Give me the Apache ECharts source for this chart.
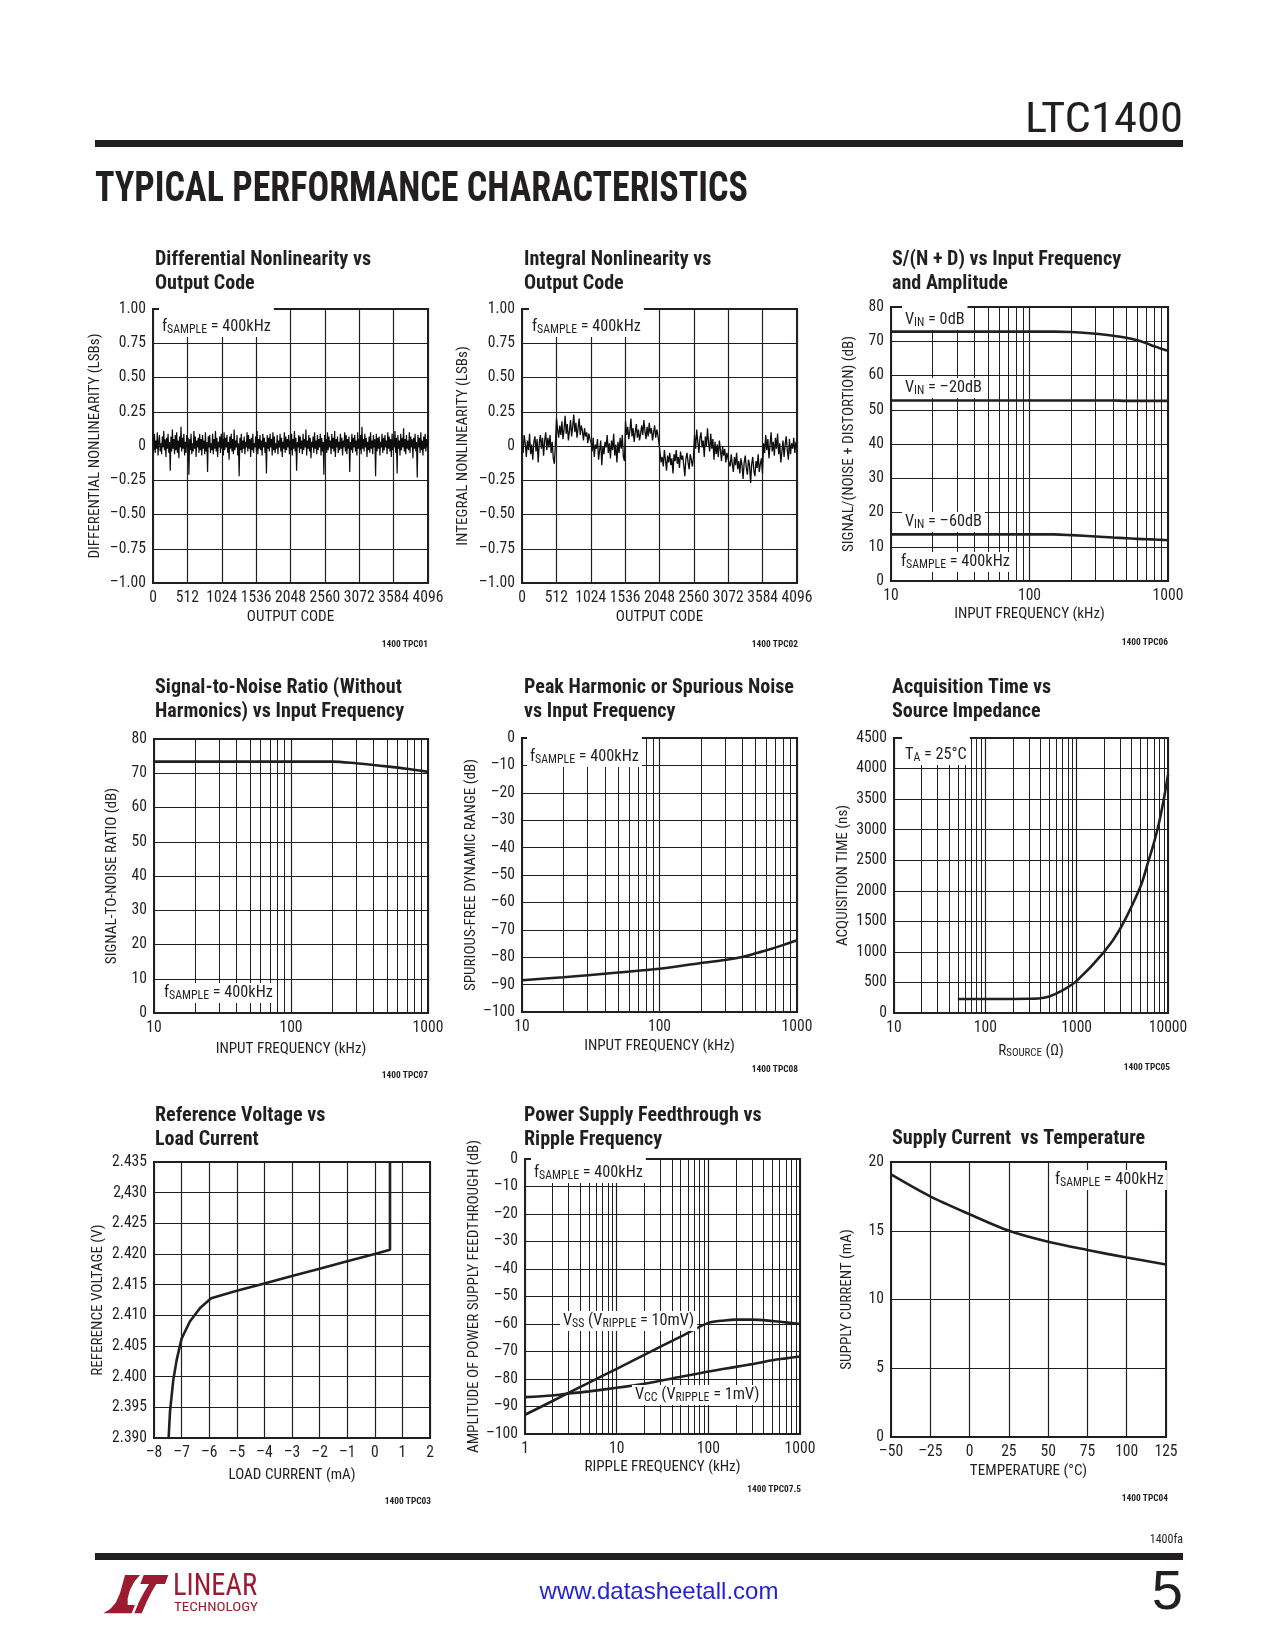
<!DOCTYPE html>
<html><head><meta charset="utf-8">
<script src="https://cdn.jsdelivr.net/npm/echarts@6/dist/echarts.min.js"></script>
<style>html,body{margin:0;padding:0;background:#fff}#c{width:1275px;height:1650px}</style>
</head><body><div id="c"></div>
<script>
// ---------------- DATA ----------------
// DNL (hundredths of an LSB), sampled evenly across codes 0..4096
const dnlValues = [
6,-3,9,-5,4,-2,10,-7,3,8,-4,2,-6,7,-1,11,-3,5,-8,6,-2,9,-5,3,-18,7,-4,12,-2,5,-6,8,
-3,10,-5,4,-9,7,-1,14,-4,6,-2,9,-7,3,-5,8,-1,6,-21,5,-3,9,-6,2,-4,11,-2,7,-8,4,-1,6,
-5,9,-3,5,-7,8,-2,4,-6,10,-4,3,-19,7,-1,8,-5,2,-3,9,-6,5,-2,11,-4,6,-8,3,-1,7,-5,9,
-2,5,-7,10,-3,6,-1,8,-5,3,-10,7,-2,9,-4,5,-6,12,-3,4,-1,8,-7,2,-22,6,-3,9,-5,4,-2,7,
-6,3,-1,10,-4,8,-2,5,-8,6,-3,9,-5,2,-1,7,-4,11,-6,5,-2,8,-3,4,-7,9,-1,6,-5,3,-20,8,
-2,6,-4,9,-1,5,-7,10,-3,7,-5,2,-2,8,-6,4,-1,9,-4,6,-8,3,-2,10,-5,7,-3,5,-1,8,-6,4,
-3,9,-7,5,-2,11,-4,6,-18,3,-1,8,-5,7,-2,4,-6,9,-3,5,-1,12,-7,4,-2,8,-4,6,-9,3,-1,7,
-5,10,-2,4,-6,8,-3,5,-1,9,-7,6,-4,3,-21,8,-2,5,-5,10,-3,7,-1,4,-6,9,-2,6,-4,11,-8,5,
-1,7,-5,3,-3,9,-2,6,-7,4,-1,10,-4,8,-6,5,-2,7,-19,3,-3,9,-5,6,-1,8,-4,4,-7,10,-2,5,
-3,8,-6,14,-2,5,-4,9,-1,6,-8,3,-3,7,-5,10,-2,4,-6,8,-1,5,-22,9,-4,6,-2,7,-7,3,-1,9,
-5,6,-3,8,-1,4,-6,10,-2,7,-4,5,-8,9,-3,3,-1,11,-5,6,-20,8,-2,4,-7,9,-3,6,-1,13,-4,5,
-6,8,-2,4,-3,10,-5,7,-1,5,-9,6,-2,9,-4,3,-23,8,-1,6,-5,10,-3,4,-7,7,-2,9,-4,5,-1,8
];
// INL (hundredths of an LSB), sampled evenly across codes 0..4096
const inlValues = [
0,-5,8,2,-8,4,-3,9,-6,1,-10,3,7,-4,5,-12,2,8,-2,6,-7,4,10,-3,6,-1,8,-5,3,-9,-13,2,
20,12,6,15,8,18,5,12,22,9,16,4,11,19,7,14,23,10,17,6,13,20,8,15,11,4,13,7,10,2,9,5,
3,-4,6,-8,1,-2,5,-10,-3,4,-14,0,-6,3,-1,8,-5,2,-9,4,-3,9,-7,1,-12,3,-5,6,-2,8,-8,-11,
18,8,14,5,11,20,7,13,3,10,16,6,12,4,9,15,8,19,11,5,14,7,17,9,13,4,10,15,6,12,8,2,
-5,-12,-8,-15,-3,-10,-18,-7,-12,-5,-14,-9,-20,-6,-11,-3,-13,-8,-16,-4,-10,-7,-14,-22,-9,-5,-12,-17,-6,-10,-15,-8,
8,-2,12,3,-5,6,10,-1,4,-8,7,0,13,2,-4,9,-2,5,-10,3,-6,1,-8,4,-3,-11,0,-7,-2,-12,-5,-9,
-10,-15,-6,-13,-19,-8,-14,-5,-17,-11,-20,-9,-14,-24,-12,-7,-16,-21,-10,-14,-27,-13,-8,-18,-22,-11,-16,-6,-19,-13,-9,-20,
2,-5,8,-3,5,-9,1,10,-4,3,-7,6,-2,9,-6,2,-12,-4,4,-8,1,7,-3,-10,5,-6,2,-2,6,-5,3,-1
];
const codeTicks = ['0','512','1024','1536','2048','2560','3072','3584','4096'];
const lsbTicks = ['\u20131.00','\u20130.75','\u20130.50','\u20130.25','0','0.25','0.50','0.75','1.00'];

// S/(N+D) vs input frequency
const sndFreq = [10,20,50,100,150,200,300,400,500,600,700,800,900,1000];
const snd0dB  = [72.8,72.8,72.8,72.8,72.8,72.7,72.2,71.6,71.0,70.3,69.4,68.5,67.8,67.2];
const snd20dB = [52.7,52.7,52.7,52.7,52.7,52.7,52.7,52.7,52.6,52.6,52.6,52.6,52.6,52.6];
const snd60dB = [13.6,13.6,13.6,13.6,13.6,13.4,13.0,12.7,12.5,12.3,12.2,12.1,12.0,11.9];
const dbTicks80 = ['0','10','20','30','40','50','60','70','80'];
const freqTicks10 = ['10','100','1000'];

// SNR (without harmonics)
const snrFreq = [10,50,100,200,300,400,500,700,1000];
const snrValues = [73.4,73.4,73.4,73.4,72.9,72.4,72.0,71.3,70.4];

// Peak harmonic / SFDR
const sfdrFreq = [10,20,50,100,200,300,400,500,600,800,1000];
const sfdrValues = [-88.4,-87.3,-85.6,-84.2,-82.1,-81.0,-79.9,-78.6,-77.5,-75.5,-73.8];
const negDbTicks = ['\u2013100','\u201390','\u201380','\u201370','\u201360','\u201350','\u201340','\u201330','\u201320','\u201310','0'];

// Acquisition time vs source impedance
const acqOhms = [50,100,200,300,400,500,700,1000,2000,3000,5000,6000,7000,8000,9000,10000];
const acqNs = [230,230,230,232,240,270,370,525,1000,1380,2070,2450,2780,3120,3500,3900];
const acqTicks = ['0','500','1000','1500','2000','2500','3000','3500','4000','4500'];
const ohmTicks = ['10','100','1000','10000'];

// Reference voltage vs load current
const refCurrent = [-7.47,-7.42,-7.30,-7.18,-7.00,-6.70,-6.33,-5.93,-5,-4,-3,-2,-1,0,0.55,0.55];
const refVoltage = [2.390,2.3943,2.3995,2.4027,2.4062,2.4090,2.4112,2.4128,2.4140,2.4152,2.4164,2.4176,2.4188,2.4200,2.4207,2.435];
const refTicks = ['2.390','2.395','2.400','2.405','2.410','2.415','2.420','2.425','2,430','2.435'];
const loadTicks = ['\u20138','\u20137','\u20136','\u20135','\u20134','\u20133','\u20132','\u20131','0','1','2'];

// Power supply feedthrough vs ripple frequency
const psfFreq = [1,2,3,5,10,20,50,100,150,200,300,500,700,1000];
const vssFeed = [-93.0,-88.0,-85.0,-81.3,-76.3,-71.2,-64.6,-59.6,-58.7,-58.4,-58.4,-58.9,-59.4,-60.0];
const vccFeed = [-86.6,-86.0,-85.3,-84.5,-83.2,-81.7,-79.2,-77.3,-76.3,-75.6,-74.6,-73.2,-72.5,-71.8];
const freqTicks1 = ['1','10','100','1000'];

// Supply current vs temperature
const tempC = [-50,-25,0,25,50,75,100,125];
const supplyMa = [19.1,17.5,16.2,15.0,14.2,13.6,13.05,12.55];
const tempTicks = ['\u201350','\u201325','0','25','50','75','100','125'];
const maTicks = ['0','5','10','15','20'];

// ---------------- FONT PICK (condensed face if present) ----------------
const mctx = document.createElement('canvas').getContext('2d');
function mw(font, s) { mctx.font = font; return mctx.measureText(s).width; }
const SAMPLE = 'Differential Nonlinearity OUTPUT CODE 0123456789';
function hasFont(n) {
  return mw('100px "' + n + '", monospace', SAMPLE) !== mw('100px monospace', SAMPLE) ||
         mw('100px "' + n + '", serif', SAMPLE) !== mw('100px serif', SAMPLE);
}
let FONT = null;
['Liberation Sans Narrow','Arial Narrow','Nimbus Sans Narrow','Roboto Condensed','Noto Sans Condensed',
 'DejaVu Sans Condensed','Open Sans Condensed'].some(n => { if (hasFont(n)) { FONT = {fam:'"' + n + '"', st:'normal'}; return true; } return false; });
if (!FONT) ['Roboto','Open Sans','Noto Sans'].some(n => {
  if (!hasFont(n)) return false;
  const a = mw('100px "' + n + '"', SAMPLE), b = mw('condensed 100px "' + n + '"', SAMPLE);
  if (b < a * 0.93) { FONT = {fam:'"' + n + '"', st:'condensed'}; return true; }
  return false;
});
if (!FONT) FONT = {fam:'"Liberation Sans"', st:'normal'};
const NARROW = FONT.fam + ',"Liberation Sans",Arial,sans-serif';
const FST = FONT.st;
const fontStr = (wt, px) => (FST === 'condensed' ? 'condensed ' : '') + wt + ' ' + px + 'px ' + NARROW;
const K = mw(fontStr('normal', 100), SAMPLE) / (mw('100px "Liberation Sans"', SAMPLE) * 0.82);
const SX = 1.04 / K;                      // horizontal squeeze for drawn texts
const fs = px => Math.round(px * 1.1 / Math.max(K, 1) * 10) / 10;  // axis text size
function fitX(str, wt, px, target) { return target / mw(fontStr(wt, px), str); }

// ---------------- LAYOUT / STYLE ----------------
const INK = '#231f20';
const grids = [
  {left:153, top:309, width:275, height:274},
  {left:522, top:309, width:275, height:274},
  {left:891, top:307, width:277, height:274},
  {left:154, top:739, width:274, height:274},
  {left:522, top:738, width:275, height:274},
  {left:894, top:738, width:274, height:275},
  {left:154, top:1162, width:276, height:276},
  {left:525, top:1159, width:275, height:275},
  {left:891, top:1162, width:275, height:275}
].map(g => Object.assign({show:true, borderColor:INK, borderWidth:2, backgroundColor:'transparent'}, g));

const nameRich = {
  m:{fontSize:fs(14.5), fontFamily:NARROW, fontStyle:FST, color:INK, lineHeight:16, verticalAlign:'middle'},
  s:{fontSize:fs(10.5), fontFamily:NARROW, fontStyle:FST, color:INK, lineHeight:8, verticalAlign:'bottom'}
};
function baseAxis(gi, name, gap) {
  return {
    gridIndex:gi, axisLine:{show:false}, axisTick:{show:false},
    splitLine:{show:true, lineStyle:{color:INK, width:1.2}},
    name:name, nameLocation:'middle', nameGap:gap,
    nameTextStyle:{color:INK, fontFamily:NARROW, fontStyle:FST, fontSize:fs(14.5), rich:nameRich}
  };
}
const lblStyle = {color:INK, fontFamily:NARROW, fontStyle:FST, fontSize:fs(15), margin:7};
function linAxis(gi, min, max, interval, ticks, name, gap) {
  return Object.assign(baseAxis(gi, name, gap), {
    type:'value', min:min, max:max, interval:interval,
    axisLabel:Object.assign({formatter: v => ticks[Math.round((v - min) / interval)]}, lblStyle)
  });
}
function logAxis(gi, min, max, ticks, name, gap) {
  return Object.assign(baseAxis(gi, name, gap), {
    type:'log', logBase:10, min:min, max:max,
    axisLabel:Object.assign({formatter: v => ticks[Math.round(Math.log10(v / min))]}, lblStyle)
  });
}
function minorLogLines(fromDecade, toDecade) {
  const vals = [];
  for (let d = fromDecade; d < toDecade; d++) for (let k = 2; k <= 9; k++) vals.push(k * Math.pow(10, d));
  return {silent:true, symbol:['none','none'], label:{show:false}, animation:false,
    lineStyle:{color:INK, width:1, type:'solid'}, emphasis:{disabled:true},
    data: vals.map(v => ({xAxis:v}))};
}
function zip(xs, ys) { return xs.map((x, i) => [x, ys[i]]); }
function curve(gi, xs, ys, extra) {
  return Object.assign({type:'line', xAxisIndex:gi, yAxisIndex:gi, symbol:'none', z:3,
    data: zip(xs, ys), lineStyle:{color:INK, width:2.6}, smooth:0.3, animation:false}, extra || {});
}

const xAxes = [
  linAxis(0, 0, 4096, 512, codeTicks, 'OUTPUT CODE', 27),
  linAxis(1, 0, 4096, 512, codeTicks, 'OUTPUT CODE', 27),
  logAxis(2, 10, 1000, freqTicks10, 'INPUT FREQUENCY (kHz)', 26),
  logAxis(3, 10, 1000, freqTicks10, 'INPUT FREQUENCY (kHz)', 29),
  logAxis(4, 10, 1000, freqTicks10, 'INPUT FREQUENCY (kHz)', 27),
  logAxis(5, 10, 10000, ohmTicks, '{m|R}{s|SOURCE}{m| (\u03a9)}', 30),
  linAxis(6, -8, 2, 1, loadTicks, 'LOAD CURRENT (mA)', 30),
  logAxis(7, 1, 1000, freqTicks1, 'RIPPLE FREQUENCY (kHz)', 26),
  linAxis(8, -50, 125, 25, tempTicks, 'TEMPERATURE (\u00b0C)', 27)
];
const yAxes = [
  linAxis(0, -1, 1, 0.25, lsbTicks, 'DIFFERENTIAL NONLINEARITY (LSBs)', 50),
  linAxis(1, -1, 1, 0.25, lsbTicks, 'INTEGRAL NONLINEARITY (LSBs)', 51),
  linAxis(2, 0, 80, 10, dbTicks80, 'SIGNAL/(NOISE + DISTORTION) (dB)', 34),
  linAxis(3, 0, 80, 10, dbTicks80, 'SIGNAL-TO-NOISE RATIO (dB)', 34),
  linAxis(4, -100, 0, 10, negDbTicks, 'SPURIOUS-FREE DYNAMIC RANGE (dB)', 39),
  linAxis(5, 0, 4500, 500, acqTicks, 'ACQUISITION TIME (ns)', 43),
  linAxis(6, 2.390, 2.435, 0.005, refTicks, 'REFERENCE VOLTAGE (V)', 48),
  linAxis(7, -100, 0, 10, negDbTicks, 'AMPLITUDE OF POWER SUPPLY FEEDTHROUGH (dB)', 40),
  linAxis(8, 0, 20, 5, maTicks, 'SUPPLY CURRENT (mA)', 36)
];

const series = [
  {type:'line', name:'DNL', xAxisIndex:0, yAxisIndex:0, symbol:'none', z:3, animation:false,
    data: dnlValues.map((v, i) => [i * 4096 / (dnlValues.length - 1), v / 100]),
    lineStyle:{color:'#0d0d0d', width:1.2}},
  {type:'line', name:'INL', xAxisIndex:1, yAxisIndex:1, symbol:'none', z:3, animation:false,
    data: inlValues.map((v, i) => [i * 4096 / (inlValues.length - 1), v / 100]),
    lineStyle:{color:'#0d0d0d', width:1.3}},
  curve(2, sndFreq, snd0dB, {name:'VIN = 0dB', markLine:minorLogLines(1, 3)}),
  curve(2, sndFreq, snd20dB, {name:'VIN = -20dB'}),
  curve(2, sndFreq, snd60dB, {name:'VIN = -60dB'}),
  curve(3, snrFreq, snrValues, {name:'SNR', markLine:minorLogLines(1, 3)}),
  curve(4, sfdrFreq, sfdrValues, {name:'SFDR', markLine:minorLogLines(1, 3)}),
  curve(5, acqOhms, acqNs, {name:'Acquisition', markLine:minorLogLines(1, 4)}),
  curve(6, refCurrent, refVoltage, {name:'VREF', smooth:false}),
  curve(7, psfFreq, vssFeed, {name:'VSS', markLine:minorLogLines(0, 3)}),
  curve(7, psfFreq, vccFeed, {name:'VCC'}),
  curve(8, tempC, supplyMa, {name:'Supply current'})
];

// chart titles
const titleDefs = [
  ['Differential Nonlinearity vs\nOutput Code', 155, 248],
  ['Integral Nonlinearity vs\nOutput Code', 524, 248],
  ['S/(N + D) vs Input Frequency\nand Amplitude', 892, 248],
  ['Signal-to-Noise Ratio (Without\nHarmonics) vs Input Frequency', 155, 676],
  ['Peak Harmonic or Spurious Noise\nvs Input Frequency', 524, 676],
  ['Acquisition Time vs\nSource Impedance', 892, 676],
  ['Reference Voltage vs\nLoad Current', 155, 1104],
  ['Power Supply Feedthrough vs\nRipple Frequency', 524, 1104],
  ['Supply Current  vs Temperature', 892, 1127]
];
const TSX = fitX('Differential Nonlinearity vs', 'bold', 20, 216);
const titleEls = titleDefs.map(t => ({type:'text', x:t[1], y:t[2], scaleX:TSX, silent:true, z:10,
  style:{text:t[0], fill:INK, fontFamily:NARROW, fontStyle:FST, fontWeight:'bold', fontSize:20, lineHeight:24,
    align:'left', verticalAlign:'top'}}));

const RICH = {
  m:{fontSize:16.5, fontFamily:NARROW, fontStyle:FST, fill:INK, lineHeight:18, verticalAlign:'middle'},
  s:{fontSize:12, fontFamily:NARROW, fontStyle:FST, fill:INK, lineHeight:9, verticalAlign:'bottom'}
};
function ann(x, yc, text, padTop) {
  const pt = padTop || 1;
  return {type:'text', x:x, y:yc - (pt - 1) / 2, z:10, silent:true, scaleX:SX,
    style:{text:text, rich:RICH, fill:INK, backgroundColor:'#fff', padding:[pt,3,1,3],
      align:'left', verticalAlign:'middle'}};
}
const FS = '{m|f}{s|SAMPLE}{m| = 400kHz}';
function txt(x, y, text, size, opts) {
  opts = opts || {};
  return Object.assign({type:'text', x:x, y:y, z:10, silent:true,
    style:Object.assign({text:text, fill:INK, fontFamily:NARROW, fontStyle:FST, fontSize:size,
      align:'left', verticalAlign:'middle'}, opts.style || {})}, opts.el || {});
}
function tag(xr, y, text) { return txt(xr, y, text, 9.5, {style:{align:'right', fontWeight:'bold'}, el:{scaleX:SX}}); }

const LOGO = '#9b1c31';
const logoL = [[125,1575],[140,1575],[134.3,1581.7],[130,1590],[127.7,1598.3],[127.7,1605],[135,1605],[131.7,1613.3],[103.3,1613.3],[110,1609.3],[115.7,1602.7],[120,1593.3]];
const logoT = [[143.7,1575],[168.3,1575],[165,1584],[156.3,1584],[151.7,1591.7],[146.7,1601.7],[141.7,1613.3],[134.3,1613.3],[139,1601.7],[144.3,1591.7],[149,1584],[140.3,1584]];

const graphics = titleEls.concat([
  // header
  txt(1183, 121, 'LTC1400', 42, {el:{scaleX:fitX('LTC1400', 'normal', 42, 158)}, style:{align:'right'}}),
  {type:'rect', shape:{x:95, y:140, width:1088, height:7}, style:{fill:INK}, silent:true},
  txt(95, 190, 'TYPICAL PERFORMANCE CHARACTERISTICS', 36,
    {style:{fontWeight:'bold'}, el:{scaleY:1.2, scaleX:fitX('TYPICAL PERFORMANCE CHARACTERISTICS', 'bold', 36, 653)}}),
  // annotations
  ann(159, 327, FS, 13),
  ann(529, 327, FS, 13),
  ann(902, 320, '{m|V}{s|IN}{m| = 0dB}', 5),
  ann(902, 388, '{m|V}{s|IN}{m| = \u201320dB}'),
  ann(902, 522, '{m|V}{s|IN}{m| = \u201360dB}'),
  ann(898, 562, FS),
  ann(161, 993, FS),
  ann(527, 757, FS, 12),
  ann(902, 755, '{m|T}{s|A}{m| = 25\u00b0C}', 10),
  ann(531, 1173, FS, 8),
  ann(560, 1321, '{m|V}{s|SS}{m| (V}{s|RIPPLE}{m| = 10mV)}'),
  ann(632, 1395, '{m|V}{s|CC}{m| (V}{s|RIPPLE}{m| = 1mV)}'),
  ann(1052, 1180, FS),
  // figure tags
  tag(428, 645, '1400 TPC01'),
  tag(798, 645, '1400 TPC02'),
  tag(1168, 643, '1400 TPC06'),
  tag(428, 1076, '1400 TPC07'),
  tag(798, 1070, '1400 TPC08'),
  tag(1170, 1068, '1400 TPC05'),
  tag(431, 1502, '1400 TPC03'),
  tag(801, 1490, '1400 TPC07.5'),
  tag(1168, 1499, '1400 TPC04'),
  // footer
  txt(1183, 1540, '1400fa', 12, {style:{align:'right'}}),
  {type:'rect', shape:{x:95, y:1553, width:1088, height:7}, style:{fill:INK}, silent:true},
  {type:'polygon', shape:{points:logoL}, style:{fill:LOGO}, silent:true},
  {type:'polygon', shape:{points:logoT}, style:{fill:LOGO}, silent:true},
  txt(173, 1587, 'LINEAR', 30, {style:{fill:LOGO}, el:{scaleY:1.05, scaleX:fitX('LINEAR', 'normal', 30, 84)}}),
  txt(174, 1608, 'TECHNOLOGY', 13, {style:{fill:LOGO}, el:{scaleX:fitX('TECHNOLOGY', 'normal', 13, 84)}}),
  txt(659, 1592, 'www.datasheetall.com', 24, {style:{align:'center', fontFamily:'"Liberation Sans",Arial,sans-serif', fontStyle:'normal', fill:'#2323d6'}}),
  txt(1183, 1594, '5', 56, {style:{align:'right', fontFamily:'"Liberation Sans",Arial,sans-serif', fontStyle:'normal'}})
]);

const chart = echarts.init(document.getElementById('c'), null, {renderer:'canvas'});
chart.setOption({
  animation:false,
  backgroundColor:'#ffffff',
  grid: grids,
  xAxis: xAxes,
  yAxis: yAxes,
  series: series,
  graphic: {elements: graphics}
});
</script>
</body></html>
